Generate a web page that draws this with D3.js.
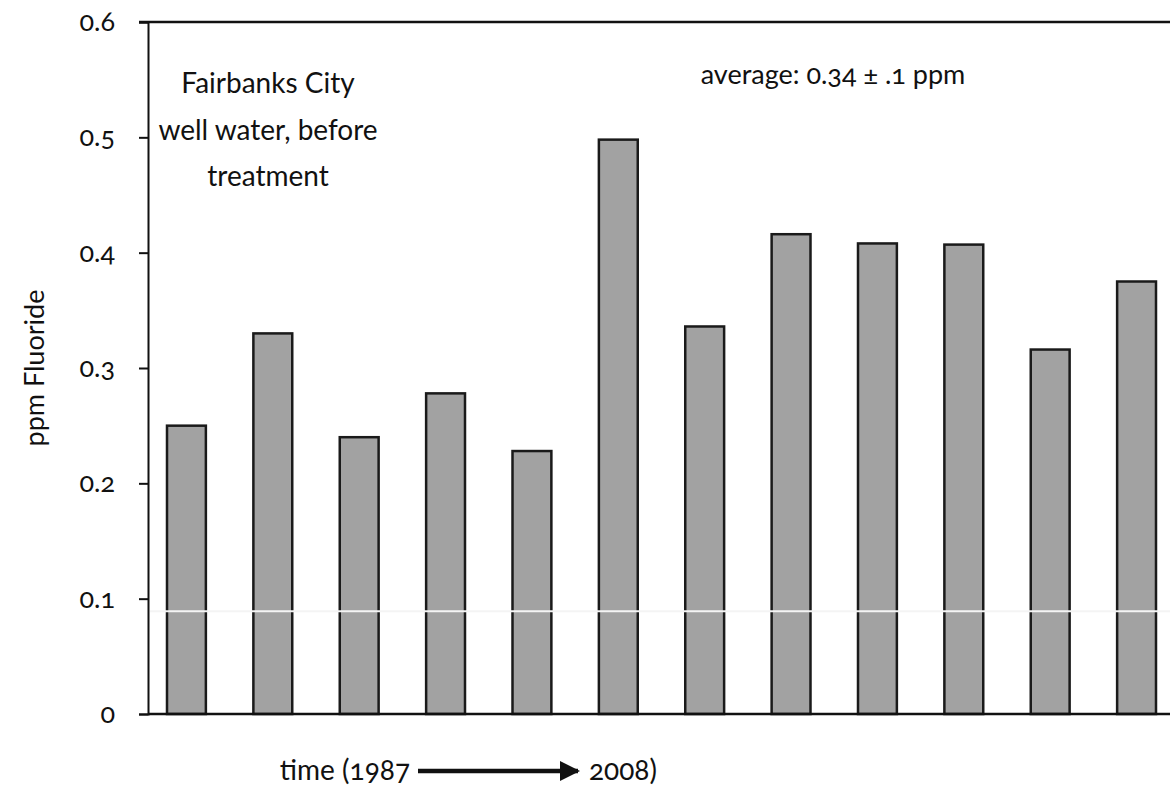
<!DOCTYPE html>
<html>
<head>
<meta charset="utf-8">
<script src="https://cdn.jsdelivr.net/npm/d3@7"></script>
<style>
  body { margin: 0; background: #fff; }
  svg text { font-family: Lato, "Open Sans", sans-serif; fill: #111; font-variant-numeric: oldstyle-nums; }
</style>
</head>
<body>
<div id="chart"></div>
<script>
// Samples, in order (1987 -> 2008)
const samples = ["1", "2", "3", "4", "5", "6", "7", "8", "9", "10", "11", "12"];
const fluoride = [0.25, 0.33, 0.24, 0.278, 0.228, 0.498, 0.336, 0.416, 0.408, 0.407, 0.316, 0.375];
const yTicks = [0, 0.1, 0.2, 0.3, 0.4, 0.5, 0.6];
const titleLines = ["Fairbanks City", "well water, before", "treatment"];
const averageLabel = "average: 0.34 \u00b1 .1 ppm";

const width = 1170, height = 786;
const margins = {top: 22, right: -5, bottom: 72, left: 148};

const svg = d3.select("#chart")
  .append("svg")
  .attr("width", width)
  .attr("height", height);

const xScale = d3.scaleBand()
  .domain(samples)
  .range([margins.left, width - margins.right])
  .paddingInner(0.55)
  .paddingOuter(0.22);

const yScale = d3.scaleLinear()
  .domain([0, 0.6])
  .range([height - margins.bottom, margins.top]);

// bars
svg.append("g")
  .selectAll("rect")
  .data(samples.map((s, i) => ({sample: s, value: fluoride[i]})))
  .join("rect")
    .attr("x", d => xScale(d.sample))
    .attr("y", d => yScale(d.value))
    .attr("width", xScale.bandwidth())
    .attr("height", d => yScale(0) - yScale(d.value))
    .attr("fill", "#a2a2a2")
    .attr("stroke", "#1a1a1a")
    .attr("stroke-width", 2.5);

// faint white streak across the bars (from the scan)
svg.append("line")
  .attr("x1", margins.left + 2)
  .attr("x2", width)
  .attr("y1", yScale(0.089))
  .attr("y2", yScale(0.089))
  .attr("stroke", "#f4f4f4")
  .attr("stroke-width", 2);

// y axis
const yGroup = svg.append("g")
    .attr("transform", `translate(${margins.left},0)`)
  .call(d3.axisLeft(yScale).tickValues(yTicks).tickSize(9).tickPadding(24)
    .tickFormat(d => d === 0 ? "0" : d3.format(".1f")(d)));

yGroup.select(".domain")
  .attr("stroke", "#111")
  .attr("stroke-width", 2);
yGroup.selectAll(".tick line")
  .attr("stroke", "#111")
  .attr("stroke-width", 2);
yGroup.selectAll(".tick text")
  .style("font-size", "27px")
  .style("font-family", "Lato, sans-serif")
  .attr("fill", "#111");

// bottom axis line and top frame line
svg.append("line")
  .attr("x1", margins.left).attr("x2", width)
  .attr("y1", yScale(0)).attr("y2", yScale(0))
  .attr("stroke", "#111").attr("stroke-width", 2.5);

svg.append("line")
  .attr("x1", margins.left - 9).attr("x2", width)
  .attr("y1", yScale(0.6)).attr("y2", yScale(0.6))
  .attr("stroke", "#111").attr("stroke-width", 2.5);

// y label
svg.append("text")
  .attr("transform", `translate(44,${(yScale(0) + yScale(0.6)) / 2}) rotate(-90)`)
  .attr("text-anchor", "middle")
  .style("font-size", "27px")
  .text("ppm Fluoride");

// title block
svg.append("g")
  .selectAll("text")
  .data(titleLines)
  .join("text")
    .attr("x", 268)
    .attr("y", (d, i) => 93 + i * 46.5)
    .attr("text-anchor", "middle")
    .style("font-size", "28px")
    .text(d => d);

svg.append("text")
  .attr("x", 833)
  .attr("y", 84)
  .attr("text-anchor", "middle")
  .style("font-size", "27px")
  .text(averageLabel);

// x label with arrow
svg.append("defs").append("marker")
  .attr("id", "arrow")
  .attr("viewBox", "0 0 10 10")
  .attr("refX", 9).attr("refY", 5)
  .attr("markerWidth", 4.5).attr("markerHeight", 4.5)
  .attr("markerUnits", "strokeWidth")
  .attr("orient", "auto")
  .append("path")
    .attr("d", "M0,0 L10,5 L0,10 z")
    .attr("fill", "#111");

svg.append("text")
  .attr("x", 410)
  .attr("y", 780)
  .attr("text-anchor", "end")
  .style("font-size", "28px")
  .text("time (1987");

svg.append("line")
  .attr("x1", 418).attr("x2", 578)
  .attr("y1", 771).attr("y2", 771)
  .attr("stroke", "#111")
  .attr("stroke-width", 4.5)
  .attr("marker-end", "url(#arrow)");

svg.append("text")
  .attr("x", 589)
  .attr("y", 780)
  .attr("text-anchor", "start")
  .style("font-size", "28px")
  .text("2008)");
</script>
</body>
</html>
